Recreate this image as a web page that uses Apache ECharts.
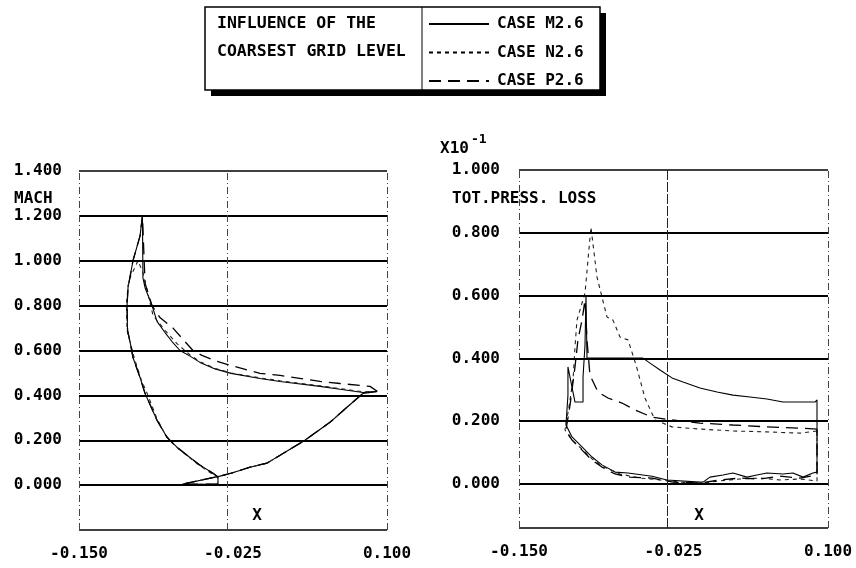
<!DOCTYPE html>
<html>
<head>
<meta charset="utf-8">
<script src="https://cdn.jsdelivr.net/npm/echarts@6/dist/echarts.min.js"></script>
<style>
html,body{margin:0;padding:0;background:#fff;}
#chart{width:856px;height:568px;}
</style>
</head>
<body>
<div id="chart"></div>
<script>
// ---- data ----
const cases = ['CASE M2.6', 'CASE N2.6', 'CASE P2.6'];
const xTicks = [-0.15, -0.025, 0.1];
const machTicks = [0, 0.2, 0.4, 0.6, 0.8, 1.0, 1.2, 1.4];
const lossTicks = [0, 0.2, 0.4, 0.6, 0.8, 1.0];

// Mach number distribution (x, Mach)
const machM = [[0.092,0.418],[0.0805,0.413],[0.0619,0.427],[0.0456,0.44],[0.0132,0.462],[-0.0031,0.475],[-0.0266,0.498],[-0.0396,0.518],[-0.0518,0.547],[-0.0599,0.575],[-0.068,0.6],[-0.0745,0.64],[-0.0802,0.68],[-0.0867,0.73],[-0.0907,0.8],[-0.0964,0.88],[-0.0981,0.924],[-0.0985,1.2],[-0.1005,1.11],[-0.1062,1.0],[-0.1102,0.88],[-0.111,0.8],[-0.1106,0.69],[-0.1086,0.64],[-0.1062,0.569],[-0.1005,0.48],[-0.0964,0.409],[-0.0867,0.289],[-0.0786,0.213],[-0.0705,0.169],[-0.0623,0.133],[-0.0518,0.089],[-0.0412,0.053],[-0.0372,0.036],[-0.0372,0.004],[-0.0664,0.004],[-0.0355,0.04],[-0.0266,0.053],[-0.0112,0.08],[0.0026,0.098],[0.0132,0.133],[0.0334,0.2],[0.0537,0.28],[0.0675,0.347],[0.0805,0.409],[0.092,0.418]];
const machN = [[0.092,0.418],[0.0805,0.416],[0.0619,0.43],[0.0456,0.443],[0.0132,0.465],[-0.0031,0.478],[-0.0266,0.5],[-0.0396,0.52],[-0.0518,0.55],[-0.0599,0.58],[-0.0705,0.631],[-0.0802,0.69],[-0.0899,0.756],[-0.0981,0.947],[-0.1021,1.0],[-0.1086,0.924],[-0.1102,0.89],[-0.1115,0.8],[-0.111,0.69],[-0.1082,0.63],[-0.1048,0.56],[-0.0995,0.47],[-0.094,0.4],[-0.087,0.3],[-0.080,0.225],[-0.072,0.175],[-0.063,0.135],[-0.053,0.09],[-0.042,0.05],[-0.0375,0.036],[-0.0375,0.004],[-0.0664,0.004],[-0.0355,0.04],[-0.0266,0.053],[-0.0112,0.08],[0.0026,0.098],[0.0132,0.133],[0.0334,0.2],[0.0537,0.28],[0.0675,0.347],[0.0805,0.409],[0.092,0.418]];
const machP = [[0.092,0.418],[0.0862,0.44],[0.0619,0.453],[0.0456,0.462],[0.0132,0.489],[-0.0031,0.498],[-0.0266,0.533],[-0.0396,0.555],[-0.0502,0.578],[-0.0575,0.6],[-0.064,0.64],[-0.0737,0.7],[-0.0843,0.747],[-0.0907,0.8],[-0.0964,0.9],[-0.0985,1.2],[-0.1005,1.11],[-0.1062,1.0],[-0.1102,0.88],[-0.111,0.8],[-0.1106,0.69],[-0.1086,0.64],[-0.1062,0.569],[-0.1005,0.48],[-0.0964,0.409],[-0.0867,0.289],[-0.0786,0.213],[-0.0705,0.169],[-0.0623,0.133],[-0.0518,0.089],[-0.0412,0.053],[-0.0372,0.036],[-0.0372,0.004],[-0.0664,0.004],[-0.0355,0.04],[-0.0266,0.053],[-0.0112,0.08],[0.0026,0.098],[0.0132,0.133],[0.0334,0.2],[0.0537,0.28],[0.0675,0.347],[0.0805,0.409],[0.092,0.418]];

// Total pressure loss (x, loss x10^-1)
const lossM = [[0.0911,0.268],[0.0895,0.261],[0.0773,0.261],[0.0636,0.261],[0.0506,0.271],[0.0369,0.277],[0.0231,0.283],[0.0102,0.293],[-0.0036,0.306],[-0.0173,0.325],[-0.0262,0.338],[-0.0359,0.363],[-0.044,0.385],[-0.0497,0.401],[-0.0683,0.401],[-0.0885,0.401],[-0.095,0.401],[-0.0958,0.599],[-0.0966,0.443],[-0.0982,0.341],[-0.0982,0.261],[-0.1047,0.261],[-0.1104,0.373],[-0.1104,0.283],[-0.112,0.188],[-0.1071,0.15],[-0.099,0.118],[-0.0909,0.086],[-0.0829,0.061],[-0.0723,0.038],[-0.0618,0.035],[-0.0424,0.025],[-0.0303,0.013],[-0.0036,0.006],[-0.0011,0.006],[0.0045,0.022],[0.015,0.029],[0.0231,0.035],[0.0345,0.022],[0.0425,0.029],[0.0506,0.035],[0.0636,0.032],[0.0717,0.035],[0.0798,0.022],[0.0878,0.035],[0.0911,0.038],[0.0911,0.268]];
const lossN = [[0.0911,0.169],[0.0773,0.162],[0.0506,0.166],[0.0231,0.169],[-0.0036,0.175],[-0.0262,0.182],[-0.04,0.204],[-0.0481,0.274],[-0.0553,0.379],[-0.0618,0.459],[-0.0683,0.468],[-0.074,0.522],[-0.0788,0.532],[-0.0829,0.596],[-0.0869,0.659],[-0.0918,0.818],[-0.0942,0.713],[-0.0966,0.608],[-0.1007,0.554],[-0.1031,0.522],[-0.1047,0.436],[-0.1063,0.331],[-0.1096,0.245],[-0.1128,0.172],[-0.1071,0.14],[-0.099,0.111],[-0.0909,0.08],[-0.0829,0.057],[-0.0683,0.032],[-0.0521,0.019],[-0.0359,0.013],[-0.0198,0.006],[-0.0036,0.003],[0.0126,0.01],[0.0288,0.016],[0.045,0.019],[0.0611,0.013],[0.0773,0.016],[0.0911,0.01],[0.0911,0.169]];
const lossP = [[0.0911,0.175],[0.0773,0.178],[0.0506,0.182],[0.0231,0.188],[-0.0036,0.194],[-0.0262,0.204],[-0.0424,0.213],[-0.0562,0.236],[-0.0667,0.258],[-0.078,0.274],[-0.0861,0.293],[-0.0926,0.347],[-0.095,0.459],[-0.0966,0.586],[-0.099,0.522],[-0.1023,0.459],[-0.1047,0.373],[-0.1087,0.252],[-0.112,0.172],[-0.1071,0.14],[-0.099,0.108],[-0.0909,0.076],[-0.0829,0.054],[-0.0723,0.032],[-0.0602,0.022],[-0.0424,0.019],[-0.0254,0.006],[-0.0036,0.003],[0.0126,0.013],[0.0288,0.019],[0.045,0.016],[0.0611,0.025],[0.0773,0.019],[0.0911,0.029],[0.0911,0.175]];

// ---- chart ----
const FONT = '"DejaVu Sans Mono", monospace';
const chart = echarts.init(document.getElementById('chart'), null, {renderer: 'canvas'});

const lineStyles = [
  {color: '#000', width: 1.1, type: 'solid'},
  {color: '#222', width: 1.1, type: [4, 4]},
  {color: '#000', width: 1.3, type: [12, 7]}
];

const DASHDOT = [7, 3, 1, 3];
function gridLines(ticks, yMin, yMax, midStyle) {
  const d = [];
  ticks.forEach(v => {
    d.push({yAxis: v, lineStyle: {color: '#000', width: v === yMax ? 1.6 : 2.2, type: 'solid'}});
  });
  d.push({yAxis: yMin, lineStyle: {color: '#000', width: 1.6, type: 'solid'}});
  d.push({xAxis: xTicks[0], lineStyle: {color: '#444', width: 1, type: DASHDOT}});
  d.push({xAxis: xTicks[2], lineStyle: {color: '#444', width: 1, type: DASHDOT}});
  d.push({xAxis: xTicks[1], lineStyle: midStyle});
  return {silent: true, symbol: ['none', 'none'], label: {show: false}, animation: false, data: d};
}

function xAxisCfg(gi) {
  return {
    type: 'value', gridIndex: gi, min: -0.15, max: 0.1,
    axisLine: {show: false}, axisTick: {show: false}, splitLine: {show: false},
    axisLabel: {customValues: xTicks, formatter: v => v.toFixed(3), margin: 16,
      fontFamily: FONT, fontWeight: 'bold', fontSize: 16, color: '#000'}
  };
}
function yAxisCfg(gi, min, max, ticks, margin) {
  return {
    type: 'value', gridIndex: gi, min: min, max: max,
    axisLine: {show: false}, axisTick: {show: false}, splitLine: {show: false},
    axisLabel: {customValues: ticks, formatter: v => v.toFixed(3), margin: margin,
      fontFamily: FONT, fontWeight: 'bold', fontSize: 16, color: '#000'}
  };
}

const series = [];
[machM, machN, machP].forEach((d, i) => {
  series.push({type: 'line', name: cases[i], xAxisIndex: 0, yAxisIndex: 0, data: d,
    symbol: 'none', lineStyle: lineStyles[i], itemStyle: {color: '#000'}, z: 3,
    markLine: i === 0 ? gridLines(machTicks, -0.2, 1.4, {color: '#444', width: 1, type: DASHDOT}) : undefined});
});
[lossM, lossN, lossP].forEach((d, i) => {
  series.push({type: 'line', name: cases[i], xAxisIndex: 1, yAxisIndex: 1, data: d,
    symbol: 'none', lineStyle: lineStyles[i], itemStyle: {color: '#000'}, z: 3,
    markLine: i === 0 ? gridLines(lossTicks, -0.14, 1.0, {color: '#222', width: 1, type: [10, 2]}) : undefined});
});

function txt(x, y, text, size, align) {
  return {
    type: 'text', x: x, y: y, z: 10,
    style: {text: text, fill: '#000', font: 'bold ' + size + 'px ' + FONT,
      verticalAlign: 'middle', align: align || 'left'}
  };
}

chart.setOption({
  animation: false,
  backgroundColor: '#fff',
  grid: [
    {left: 79, top: 171, width: 308, height: 359},
    {left: 519, top: 170, width: 309, height: 358}
  ],
  xAxis: [xAxisCfg(0), xAxisCfg(1)],
  yAxis: [yAxisCfg(0, -0.2, 1.4, machTicks, 17), yAxisCfg(1, -0.14, 1.0, lossTicks, 19)],
  legend: {
    data: cases, orient: 'vertical', left: 428, top: 16, padding: 0,
    itemWidth: 60, itemHeight: 14, itemGap: 12.5,
    lineStyle: {width: 2, color: '#000'},
    itemStyle: {opacity: 0},
    textStyle: {fontFamily: FONT, fontWeight: 'bold', fontSize: 16, color: '#000', padding: [0, 0, 0, 3]}
  },
  graphic: [
    {type: 'rect', shape: {x: 211, y: 13, width: 395, height: 83}, style: {fill: '#000'}, z: 1},
    {type: 'rect', shape: {x: 205, y: 7, width: 395, height: 83}, style: {fill: '#fff', stroke: '#000', lineWidth: 1.5}, z: 2},
    {type: 'line', shape: {x1: 422, y1: 7, x2: 422, y2: 90}, style: {stroke: '#000', lineWidth: 1}, z: 3},
    txt(217, 24, 'INFLUENCE OF THE', 16.5),
    txt(217, 52, 'COARSEST GRID LEVEL', 16.5),
    txt(14, 199, 'MACH', 16),
    txt(257, 516, 'X', 16, 'center'),
    txt(699, 516, 'X', 16, 'center'),
    txt(440, 149, 'X10', 16),
    txt(471, 140, '-1', 13),
    txt(452, 199, 'TOT.PRESS. LOSS', 16)
  ],
  series: series
});
</script>
</body>
</html>
